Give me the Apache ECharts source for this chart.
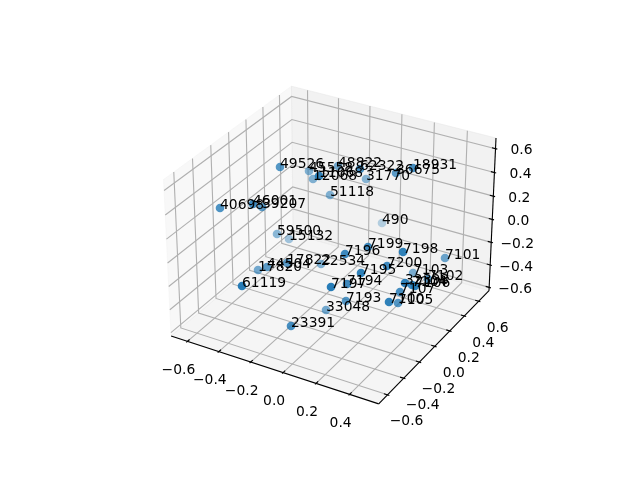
<!DOCTYPE html>
<html><head><meta charset="utf-8">
<style>html,body{margin:0;padding:0;background:#fff}#c{width:640px;height:480px}</style>
<script src="https://cdn.jsdelivr.net/npm/echarts@6/dist/echarts.min.js"></script>
</head><body><div id="c"></div>
<script>
// Axis limits and tick labels of the three data axes
const xLimits = [-0.705, 0.571];
const yLimits = [-0.707, 0.748];
const zLimits = [-0.63, 0.688];
const xTicks = [-0.6, -0.4, -0.2, 0.0, 0.2, 0.4];
const yTicks = [-0.6, -0.4, -0.2, 0.0, 0.2, 0.4, 0.6];
const zTicks = [-0.6, -0.4, -0.2, 0.0, 0.2, 0.4, 0.6];
// Points: label, position read on the picture plane, apparent depth (0 front .. 1 back)
const pointLabels = ["49526","45558","11068","12068","40698","46001","39207","48822","62322","31770","36675","18931","51118","490","59500","15132","44504","17820","17822","22534","61119","7197","33048","23391","7196","7199","7198","7101","7200","7195","7194","7193","7103","7102","32398","7104","7106","7107","7100","7105"];
const planeX = [280,309,319,313,220,253,262,338,360,366,396,413,330,382,277,289,267,258,287,321,242,331,326,291,345,368,403,445,387,361,347,346,413,428,405,412,415,400,389,398];
const planeY = [167,171,176,179,208,204,207,166,169,179,173,168,195,223,234,239,267,270,263,264,286,287,310,326,254,247,252,258,266,273,284,301,273,279,283,285,286,292,302,303];
const depth  = [0.35,0.65,0.12,0.65,0.3,0.2,0.4,0.55,0.25,0.7,0.4,0.25,0.65,1.0,0.7,0.85,0.4,0.55,0.4,0.65,0.05,0.05,0.55,0.25,0.2,0.2,0.1,0.5,0.2,0.1,0.2,0.35,0.6,0.4,0.1,0.2,0.1,0.25,0.1,0.35];

// matplotlib style 3D view: elevation 30, azimuth -60, distance 10, box 4:4:3
const aspect = [4,4,3].map(v => v * 1.8294640721620434 * 25 / 24 / Math.hypot(4,4,3));
const U = [Math.sqrt(3)/2, 0.5, 0];
const V = [-0.25, Math.sqrt(3)/4, Math.sqrt(3)/2];
const W = [Math.sqrt(3)/4, -0.75, 0.5];
const dot = (a,b) => a[0]*b[0]+a[1]*b[1]+a[2]*b[2];
function project(x,y,z){
  const p = [
    ((x-xLimits[0])/(xLimits[1]-xLimits[0])-0.5)*aspect[0],
    ((y-yLimits[0])/(yLimits[1]-yLimits[0])-0.5)*aspect[1],
    ((z-zLimits[0])/(zLimits[1]-zLimits[0])-0.5)*aspect[2]
  ];
  const d = 10 - dot(W,p);
  return [143.2 + (dot(U,p)/d + 0.095)/0.185*369.6,
          427.2 - (dot(V,p)/d + 0.095)/0.185*369.6];
}
const [x0,x1] = xLimits, [y0,y1] = yLimits, [z0,z1] = zLimits;
const dx=(x1-x0)/12, dy=(y1-y0)/12;
const IN=0.2, OUT=0.1;

const panes = [
  {pts:[[x0,y0,z0],[x0,y1,z0],[x0,y1,z1],[x0,y0,z1]], c:'rgba(242,242,242,0.5)'},
  {pts:[[x0,y1,z0],[x1,y1,z0],[x1,y1,z1],[x0,y1,z1]], c:'rgba(230,230,230,0.5)'},
  {pts:[[x0,y0,z0],[x1,y0,z0],[x1,y1,z0],[x0,y1,z0]], c:'rgba(236,236,236,0.5)'}
];
const grid=[], axes=[], ticks=[], tickText=[];
xTicks.forEach(t=>grid.push([[t,y0,z0],[t,y1,z0],[t,y1,z1]]));
yTicks.forEach(t=>grid.push([[x1,t,z0],[x0,t,z0],[x0,t,z1]]));
zTicks.forEach(t=>grid.push([[x0,y0,t],[x0,y1,t],[x1,y1,t]]));
axes.push([[x0,y0,z0],[x1,y0,z0]],[[x1,y0,z0],[x1,y1,z0]],[[x1,y1,z0],[x1,y1,z1]]);
const fmt = t => (t<0?'\u2212':'')+Math.abs(t).toFixed(1);
xTicks.forEach(t=>{ticks.push([[t,y0+IN*dy,z0],[t,y0-OUT*dy,z0]]);const p=project(t,y0,z0);tickText.push([p[0]-9,p[1]+29,fmt(t),'center']);});
yTicks.forEach(t=>{ticks.push([[x1-IN*dx,t,z0],[x1+OUT*dx,t,z0]]);const p=project(x1,t,z0);tickText.push([p[0]+19,p[1]+27,fmt(t),'center']);});
zTicks.forEach(t=>{ticks.push([[x1-IN*dx,y1,t],[x1+OUT*dx,y1,t]]);const p=project(x1,y1,t);tickText.push([p[0]+26,p[1]+2,fmt(t),'center']);});

function lineSeries(list,color,width,z){
  return {type:'custom',coordinateSystem:'cartesian2d',silent:true,z,animation:false,
    data:list.map((_,i)=>[0,0,i]),
    renderItem:(params,api)=>({type:'polyline',
      shape:{points:list[params.dataIndex].map(q=>api.coord(project(q[0],q[1],q[2])))},
      style:{stroke:color,lineWidth:width,fill:null}})};
}
const font='13.89px "DejaVu Sans"';
const option={
  animation:false,
  backgroundColor:'#fff',
  grid:{left:0,right:0,top:0,bottom:0},
  xAxis:{type:'value',min:0,max:640,show:false},
  yAxis:{type:'value',min:0,max:480,inverse:true,show:false},
  series:[
    {type:'custom',coordinateSystem:'cartesian2d',silent:true,z:1,
      data:panes.map((_,i)=>[0,0,i]),
      renderItem:(params,api)=>{const p=panes[params.dataIndex];
        return {type:'polygon',shape:{points:p.pts.map(q=>api.coord(project(q[0],q[1],q[2])))},
          style:{fill:p.c,stroke:p.c,lineWidth:1}};}},
    lineSeries(grid,'#b0b0b0',1.11,2),
    lineSeries(axes,'#000',1.11,3),
    lineSeries(ticks,'#000',1.11,3),
    {type:'custom',coordinateSystem:'cartesian2d',silent:true,z:4,
      data:tickText.map((_,i)=>[0,0,i]),
      renderItem:(params,api)=>{const t=tickText[params.dataIndex];const c=api.coord([t[0],t[1]]);
        return {type:'text',x:c[0],y:c[1],style:{text:t[2],font,fill:'#000',align:t[3],verticalAlign:'middle'}};}},
    {type:'scatter',z:5,symbol:'circle',symbolSize:8.6,
      data:pointLabels.map((n,i)=>({name:n,value:[planeX[i],planeY[i]],
        itemStyle:{color:'#1f77b4',opacity:1-0.7*depth[i]}})),
      label:{show:true,position:['50%','50%'],align:'left',verticalAlign:'bottom',offset:[0,4],
        formatter:'{b}',fontFamily:'DejaVu Sans',fontSize:13.89,color:'#000',opacity:1},
      emphasis:{disabled:true}}
  ]
};
echarts.init(document.getElementById('c'),null,{renderer:'canvas'}).setOption(option);
</script></body></html>
